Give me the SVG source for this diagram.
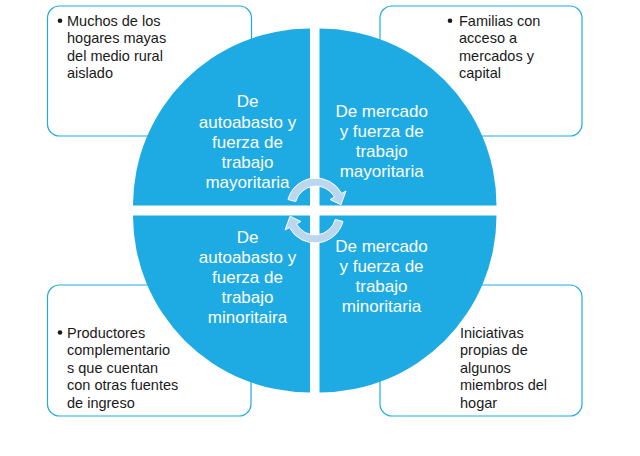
<svg xmlns="http://www.w3.org/2000/svg" width="640" height="456" viewBox="0 0 640 456">
<defs>
<style>
.box{fill:#fff;stroke:#1EABE3;stroke-width:1.2}
.bt{font-family:"Liberation Sans",Arial,sans-serif;font-size:14.5px;fill:#1a1a1a}
.q{fill:#1EABE3}
.qt{font-family:"Liberation Sans",Arial,sans-serif;font-size:17px;fill:#fff;text-anchor:middle}
.bul{fill:#1a1a1a}
.arr{fill:#BBD6EF;stroke:#fff;stroke-width:1}
</style>
<path id="carrow" d="M288,199.5 A29,29 0 0 1 341.6,193.4 L346,191 L340.9,204.8 L330.1,199.5 L334.5,197.1 A21,21 0 0 0 295.7,201.6 Z"/>
</defs>
<rect width="640" height="456" fill="#fff"/>
<g id="box-tl">
<rect class="box" x="47.5" y="6" width="204" height="130" rx="12"/>
<circle class="bul" cx="60" cy="20.7" r="2.3"/>
<text class="bt" x="67" y="26">Muchos de los</text>
<text class="bt" x="67" y="43.3">hogares mayas</text>
<text class="bt" x="67" y="60.6">del medio rural</text>
<text class="bt" x="67" y="77.9">aislado</text>
</g>
<g id="box-tr">
<rect class="box" x="380" y="6" width="202" height="130" rx="12"/>
<circle class="bul" cx="450" cy="20.7" r="2.3"/>
<text class="bt" x="459" y="26">Familias con</text>
<text class="bt" x="459" y="43.3">acceso a</text>
<text class="bt" x="459" y="60.6">mercados y</text>
<text class="bt" x="459" y="77.9">capital</text>
</g>
<g id="box-bl">
<rect class="box" x="47.5" y="285" width="203.5" height="131" rx="12"/>
<circle class="bul" cx="60" cy="332.5" r="2.3"/>
<text class="bt" x="67" y="337.6">Productores</text>
<text class="bt" x="67" y="355.2">complementario</text>
<text class="bt" x="67" y="372.8">s que cuentan</text>
<text class="bt" x="67" y="390.4">con otras fuentes</text>
<text class="bt" x="67" y="408">de ingreso</text>
</g>
<g id="box-br">
<rect class="box" x="380" y="285" width="202" height="131" rx="12"/>
<text class="bt" x="460" y="337.6">Iniciativas</text>
<text class="bt" x="460" y="355.2">propias de</text>
<text class="bt" x="460" y="372.8">algunos</text>
<text class="bt" x="460" y="390.4">miembros del</text>
<text class="bt" x="460" y="408">hogar</text>
</g>
<g id="quad-tl">
<path class="q" d="M310,205.5 L133,205.5 A177,177 0 0 1 310,28.5 Z"/>
<text class="qt" x="247.5" y="107.3">De</text>
<text class="qt" x="247.5" y="128.3">autoabasto y</text>
<text class="qt" x="247.5" y="148.3">fuerza de</text>
<text class="qt" x="247.5" y="168.3">trabajo</text>
<text class="qt" x="247.5" y="188.3">mayoritaria</text>
</g>
<g id="quad-tr">
<path class="q" d="M319.5,205.5 L319.5,28.5 A177,177 0 0 1 496.5,205.5 Z"/>
<text class="qt" x="381.7" y="116.7">De mercado</text>
<text class="qt" x="381.7" y="136.7">y fuerza de</text>
<text class="qt" x="381.7" y="156.7">trabajo</text>
<text class="qt" x="381.7" y="176.7">mayoritaria</text>
</g>
<g id="quad-bl">
<path class="q" d="M310,215.5 L310,392.5 A177,177 0 0 1 133,215.5 Z"/>
<text class="qt" x="247.5" y="243.3">De</text>
<text class="qt" x="247.5" y="263.3">autoabasto y</text>
<text class="qt" x="247.5" y="283.3">fuerza de</text>
<text class="qt" x="247.5" y="303.3">trabajo</text>
<text class="qt" x="247.5" y="323.3">minoritaira</text>
</g>
<g id="quad-br">
<path class="q" d="M319.5,215.5 L496.5,215.5 A177,177 0 0 1 319.5,392.5 Z"/>
<text class="qt" x="381.5" y="251.7">De mercado</text>
<text class="qt" x="381.5" y="271.7">y fuerza de</text>
<text class="qt" x="381.5" y="291.7">trabajo</text>
<text class="qt" x="381.5" y="311.7">minoritaria</text>
</g>
<g id="connectors">
<use href="#carrow" class="arr"/>
<use href="#carrow" class="arr" transform="rotate(180 315.5 210.5)"/>
</g>
</svg>
